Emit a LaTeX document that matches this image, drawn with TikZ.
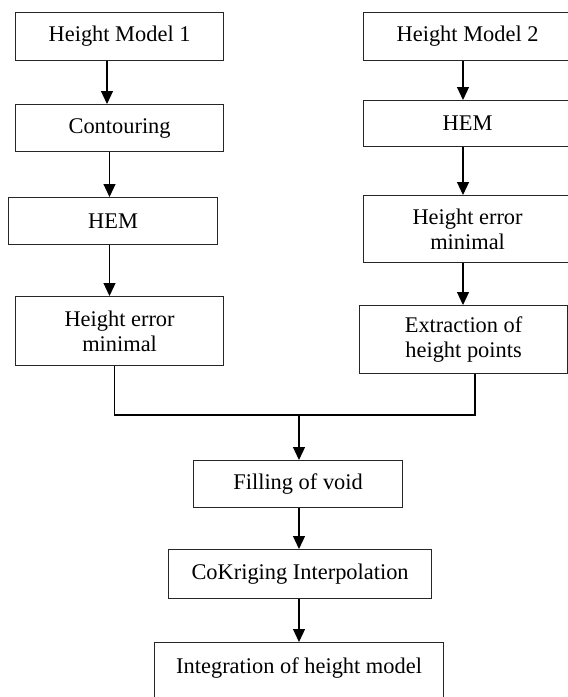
\documentclass[tikz,border=0pt]{standalone}
\usepackage{fontspec}
\setmainfont{Liberation Serif}
\usetikzlibrary{arrows.meta}
\begin{document}
\begin{tikzpicture}[x=1pt,y=-1pt,
  box/.style={draw=black!85, line width=1.2pt, rectangle, inner sep=0pt, anchor=north west, align=center, font=\fontsize{22.4}{25.5}\selectfont},
  arr/.style={draw=black, line width=1.2pt, -{Triangle[width=12pt,length=13pt]}},
  link/.style={draw=black, line width=1.2pt}]
\useasboundingbox (0,0) rectangle (568,697);
\fill[white] (0,0) rectangle (568,697);
\clip (0,0) rectangle (568,697);
% left column
\node[box, minimum width=208, minimum height=48] (hm1) at (15,12) {Height Model 1};
\node[box, minimum width=208, minimum height=47] (contour) at (15,104) {Contouring};
\node[box, minimum width=209, minimum height=47] (hemL) at (8,197) {HEM};
\node[box, minimum width=208, minimum height=69] (herL) at (15,296) {Height error\\minimal};
% right column
\node[box, minimum width=208, minimum height=48] (hm2) at (363,12) {Height Model 2};
\node[box, minimum width=208, minimum height=46] (hemR) at (363,100) {HEM};
\node[box, minimum width=208, minimum height=67] (herR) at (363,195) {Height error\\minimal};
\node[box, minimum width=208, minimum height=68] (extr) at (359,305) {Extraction of\\height points};
% bottom chain
\node[box, minimum width=209, minimum height=47] (fillv) at (193,460) {Filling of void};
\node[box, minimum width=263, minimum height=49] (cok) at (168,549) {CoKriging Interpolation};
\node[box, minimum width=289, minimum height=70,
  label={[anchor=north, inner sep=0pt, yshift=-15.6pt, font=\fontsize{22.4}{25.5}\selectfont]north:Integration of height model}] (integ) at (154,642) {};
% connector columns
\coordinate (a1) at (107,0);
\coordinate (a2) at (109.5,0);
\coordinate (a4) at (463,0);
\coordinate (l1) at (114.5,0);
\coordinate (r1) at (475,0);
\coordinate (j) at (299,415);
\draw[arr] (hm1.south -| a1) -- (contour.north -| a1);
\draw[arr] (contour.south -| a2) -- (hemL.north -| a2);
\draw[arr] (hemL.south -| a2) -- (herL.north -| a2);
\draw[arr] (hm2.south -| a4) -- (hemR.north -| a4);
\draw[arr] (hemR.south -| a4) -- (herR.north -| a4);
\draw[arr] (herR.south -| a4) -- (extr.north -| a4);
\draw[link] (herL.south -| l1) |- (j) -| (extr.south -| r1);
\draw[arr] (j) -- (fillv.north -| j);
\draw[arr] (fillv.south -| j) -- (cok.north -| j);
\draw[arr] (cok.south -| j) -- (integ.north -| j);
\end{tikzpicture}
\end{document}
